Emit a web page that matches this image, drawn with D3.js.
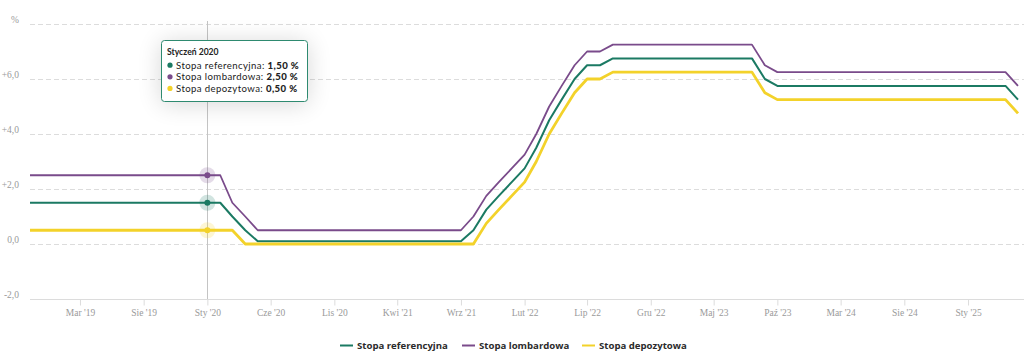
<!DOCTYPE html>
<html lang="pl">
<head>
<meta charset="utf-8">
<script src="https://cdn.jsdelivr.net/npm/d3@7"></script>
<style>
  html, body { margin: 0; padding: 0; background: #fff; }
  #wrap { position: relative; width: 1024px; height: 358px; overflow: hidden; }
  svg { position: absolute; left: 0; top: 0; }
</style>
</head>
<body>
<div id="wrap"><svg id="chart" width="1024" height="358"></svg></div>
<script>
// ---- DATA ----
// Monthly values (end of month), Nov 2018 .. May 2025
const startMonth = "2018-11";
const seriesNames = ["Stopa referencyjna", "Stopa lombardowa", "Stopa depozytowa"];
const refRate = [
  1.5,1.5,                                   // 2018 Nov-Dec
  1.5,1.5,1.5,1.5,1.5,1.5,1.5,1.5,1.5,1.5,1.5,1.5, // 2019
  1.5,1.5,1.0,0.5,0.1,0.1,0.1,0.1,0.1,0.1,0.1,0.1, // 2020
  0.1,0.1,0.1,0.1,0.1,0.1,0.1,0.1,0.1,0.5,1.25,1.75, // 2021
  2.25,2.75,3.5,4.5,5.25,6.0,6.5,6.5,6.75,6.75,6.75,6.75, // 2022
  6.75,6.75,6.75,6.75,6.75,6.75,6.75,6.75,6.0,5.75,5.75,5.75, // 2023
  5.75,5.75,5.75,5.75,5.75,5.75,5.75,5.75,5.75,5.75,5.75,5.75, // 2024
  5.75,5.75,5.75,5.75,5.25                  // 2025 Jan-May
];
const lombardRate = [
  2.5,2.5,
  2.5,2.5,2.5,2.5,2.5,2.5,2.5,2.5,2.5,2.5,2.5,2.5,
  2.5,2.5,1.5,1.0,0.5,0.5,0.5,0.5,0.5,0.5,0.5,0.5,
  0.5,0.5,0.5,0.5,0.5,0.5,0.5,0.5,0.5,1.0,1.75,2.25,
  2.75,3.25,4.0,5.0,5.75,6.5,7.0,7.0,7.25,7.25,7.25,7.25,
  7.25,7.25,7.25,7.25,7.25,7.25,7.25,7.25,6.5,6.25,6.25,6.25,
  6.25,6.25,6.25,6.25,6.25,6.25,6.25,6.25,6.25,6.25,6.25,6.25,
  6.25,6.25,6.25,6.25,5.75
];
const depositRate = [
  0.5,0.5,
  0.5,0.5,0.5,0.5,0.5,0.5,0.5,0.5,0.5,0.5,0.5,0.5,
  0.5,0.5,0.5,0.0,0.0,0.0,0.0,0.0,0.0,0.0,0.0,0.0,
  0.0,0.0,0.0,0.0,0.0,0.0,0.0,0.0,0.0,0.0,0.75,1.25,
  1.75,2.25,3.0,4.0,4.75,5.5,6.0,6.0,6.25,6.25,6.25,6.25,
  6.25,6.25,6.25,6.25,6.25,6.25,6.25,6.25,5.5,5.25,5.25,5.25,
  5.25,5.25,5.25,5.25,5.25,5.25,5.25,5.25,5.25,5.25,5.25,5.25,
  5.25,5.25,5.25,5.25,4.75
];
const xTickMonths = ["2019-03","2019-08","2020-01","2020-06","2020-11","2021-04","2021-09",
                     "2022-02","2022-07","2022-12","2023-05","2023-10","2024-03","2024-08","2025-01"];
const xTickLabels = ["Mar '19","Sie '19","Sty '20","Cze '20","Lis '20","Kwi '21","Wrz '21",
                     "Lut '22","Lip '22","Gru '22","Maj '23","Paź '23","Mar '24","Sie '24","Sty '25"];
const yTickValues = [-2, 0, 2, 4, 6, 8];
const yTickLabels = ["-2,0", "0,0", "+2,0", "+4,0", "+6,0", "%"];
const hoverMonth = "2020-01";
const hoverTitle = "Styczeń 2020";

// ---- STYLE ----
const colors = ["#1b7a63", "#7a4b8b", "#f3d22a"];
const widths = [2, 1.8, 2.8];

const parse = d3.timeParse("%Y-%m");
const start = parse(startMonth);
const dates = refRate.map((_, i) => d3.timeMonth.offset(start, i));
const series = [refRate, lombardRate, depositRate].map((vals, k) => ({
  name: seriesNames[k], color: colors[k], width: widths[k],
  points: vals.map((v, i) => ({ date: dates[i], value: v }))
}));

const svg = d3.select("#chart");
const defs = svg.append("defs");
const f = defs.append("filter").attr("id", "sh").attr("x", "-60%").attr("y", "-80%").attr("width", "220%").attr("height", "260%");
f.append("feGaussianBlur").attr("in", "SourceAlpha").attr("stdDeviation", 12).attr("result", "b");
f.append("feOffset").attr("in", "b").attr("dy", 2).attr("result", "o");
f.append("feComponentTransfer").attr("in", "o").attr("result", "c")
  .append("feFuncA").attr("type", "linear").attr("slope", 0.16);
const fm = f.append("feMerge");
fm.append("feMergeNode").attr("in", "c");
fm.append("feMergeNode").attr("in", "SourceGraphic");

const x = d3.scaleTime().domain([start, dates[dates.length - 1]]).range([30, 1018]);
const y = d3.scaleLinear().domain([-2, 8]).range([299, 24]);

// gridlines
const g = svg.append("g");
g.selectAll("line.grid").data(yTickValues.filter(v => v > -2)).join("line")
  .attr("x1", 30).attr("x2", 1024)
  .attr("y1", d => Math.round(y(d)) + 0.5).attr("y2", d => Math.round(y(d)) + 0.5)
  .attr("stroke", "#dcdcdc").attr("stroke-dasharray", "5,3");

// y labels
g.selectAll("text.yl").data(yTickValues).join("text")
  .attr("x", 19).attr("y", d => y(d) - 1)
  .attr("text-anchor", "end")
  .attr("font-family", "'Liberation Serif', serif").attr("font-size", 9.5)
  .attr("fill", "#9a9a9a")
  .text((d, i) => yTickLabels[i]);

// x axis
const xAxis = d3.axisBottom(x)
  .tickValues(xTickMonths.map(parse))
  .tickFormat((d, i) => xTickLabels[i])
  .tickSize(6).tickPadding(4);
const ax = svg.append("g").attr("transform", "translate(0,299.5)").call(xAxis);
ax.select(".domain").attr("d", "M30,0H1024").attr("stroke", "#dcdcdc");
ax.selectAll(".tick line").attr("stroke", "#dcdcdc");
ax.selectAll(".tick text").attr("font-family", "'Liberation Serif', serif")
  .attr("font-size", 9.5).attr("fill", "#9a9a9a");

// hover line
const hx = Math.round(x(parse(hoverMonth))) + 0.5;
svg.append("line").attr("x1", hx).attr("x2", hx).attr("y1", 21).attr("y2", 299)
  .attr("stroke", "#c4c4c4").attr("stroke-width", 1);

// lines
const line = d3.line().x(d => x(d.date)).y(d => y(d.value));
svg.append("g").selectAll("path").data(series).join("path")
  .attr("d", d => line(d.points))
  .attr("fill", "none").attr("stroke", d => d.color).attr("stroke-width", d => d.width)
  .attr("stroke-linejoin", "round");

// hover markers
const hi = dates.findIndex(d => +d === +parse(hoverMonth));
const mk = svg.append("g");
series.forEach(s => {
  const cx = x(s.points[hi].date), cy = y(s.points[hi].value);
  mk.append("circle").attr("cx", cx).attr("cy", cy).attr("r", 8).attr("fill", s.color).attr("opacity", 0.2);
  mk.append("circle").attr("cx", cx).attr("cy", cy).attr("r", 3).attr("fill", s.color);
});

// legend
const legend = svg.append("g").attr("font-family", "'Open Sans', sans-serif").attr("font-size", 9.6)
  .attr("font-weight", 700).attr("fill", "#2b2b2b");
const legX = [340, 462, 582];
series.forEach((s, i) => {
  legend.append("line").attr("x1", legX[i]).attr("x2", legX[i] + 13).attr("y1", 345.5).attr("y2", 345.5)
    .attr("stroke", s.color).attr("stroke-width", 2);
  legend.append("text").attr("x", legX[i] + 17).attr("y", 349).text(s.name);
});

// tooltip
const fmt = v => d3.format(".2f")(v).replace(".", ",") + " %";
const tg = svg.append("g").attr("font-family", "Lato, 'Open Sans', sans-serif").attr("fill", "#222");
tg.append("rect").attr("x", 161.5).attr("y", 40.5).attr("width", 146).attr("height", 61).attr("rx", 3)
  .attr("fill", "#fff").attr("stroke", "#2f8a70").attr("stroke-width", 1).attr("filter", "url(#sh)");
tg.append("text").attr("x", 167).attr("y", 55).attr("font-size", 8.6).attr("font-weight", 700).text(hoverTitle);
series.forEach((s, i) => {
  const yy = 68.5 + i * 11.6;
  tg.append("circle").attr("cx", 170).attr("cy", yy - 3.3).attr("r", 2.6).attr("fill", s.color);
  const t = tg.append("text").attr("x", 176).attr("y", yy).attr("font-size", 9.6)
    .attr("letter-spacing", 0.4);
  t.append("tspan").text(s.name + ": ");
  t.append("tspan").attr("font-weight", 900).text(fmt(s.points[hi].value));
});
</script>
</body>
</html>
